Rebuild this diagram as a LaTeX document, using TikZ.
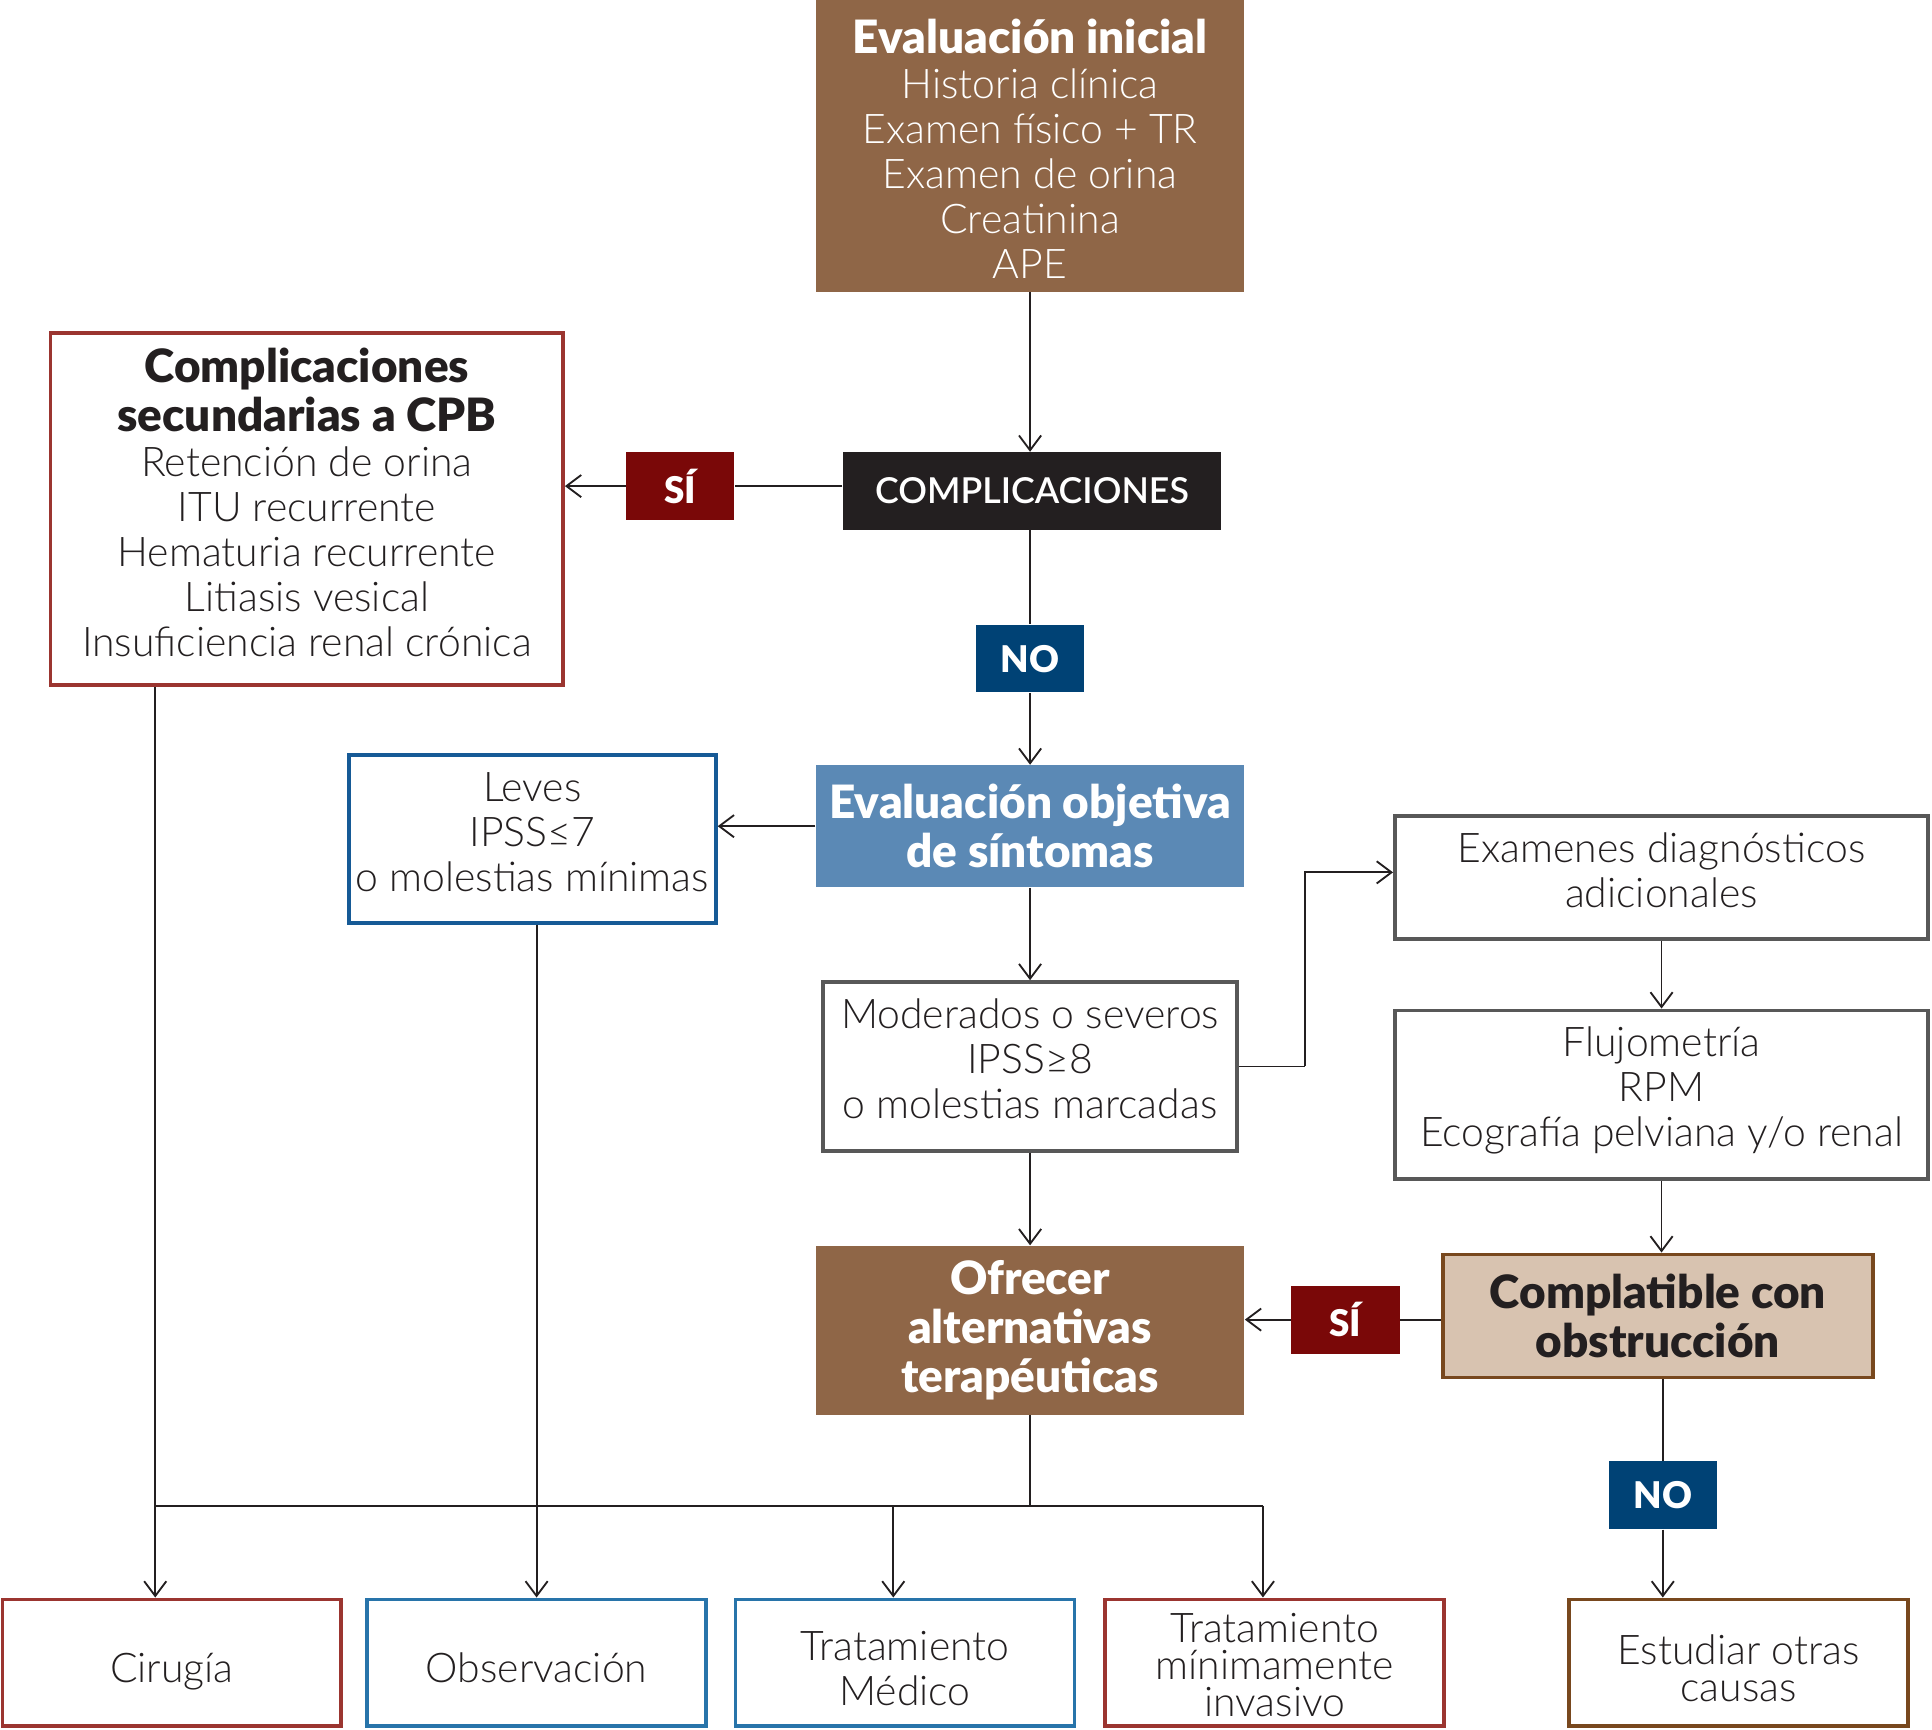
\documentclass[tikz,border=0pt]{standalone}
\usepackage{fontspec}
\setmainfont{Lato Light}[BoldFont={Lato Black}]
\newfontfamily\medio{Lato Semibold}
\usetikzlibrary{arrows.meta, positioning}

\definecolor{cafe}{RGB}{143,102,71}
\definecolor{cafeclaro}{RGB}{216,195,176}
\definecolor{cafeborde}{RGB}{120,72,30}
\definecolor{negro}{RGB}{35,31,32}
\definecolor{vino}{RGB}{122,8,8}
\definecolor{marino}{RGB}{0,66,117}
\definecolor{acero}{RGB}{91,137,181}
\definecolor{rojo}{RGB}{155,53,48}
\definecolor{azul}{RGB}{22,90,150}
\definecolor{celeste}{RGB}{40,116,170}
\definecolor{gris}{RGB}{88,88,88}

\newcommand{\encab}{\bfseries\fontsize{21.2}{22.8}\selectfont}
\newcommand{\alto}[1]{\rule[#1]{0pt}{0pt}}
\newcommand{\hondo}[1]{\rule[-#1]{0pt}{0pt}}

\tikzset{
  texto/.style={font=\fontsize{18.9}{20.8}\selectfont},
  titulo/.style={font=\bfseries\fontsize{21.2}{22.8}\selectfont},
  caja/.style={draw, line width=0.06cm, fill=white, text=negro, inner sep=0pt, align=center, texto},
  llena/.style={fill=#1, text=white, inner sep=0pt, align=center},
  etiqueta/.style={fill=#1, text=white, inner sep=0pt, minimum width=1.76cm, minimum height=1.1cm, font=\bfseries\fontsize{17}{20}\selectfont},
  flecha/.style={-{Straight Barb[length=2.4mm, width=3.6mm]}, draw=negro, line width=0.03cm},
  linea/.style={draw=negro, line width=0.03cm}
}

\begin{document}
\begin{tikzpicture}[x=0.02cm, y=-0.02cm]
\useasboundingbox (0,0) rectangle (1568,1404);

\node [llena=cafe, minimum width=6.96cm, minimum height=4.74cm, texto] (ini) at (836,118.5)
  {{\alto{24.4pt}\encab Evaluación inicial}\\ Historia clínica\\ Examen físico + TR\\ Examen de orina\\ Creatinina\\ APE\hondo{6pt}};

\node [llena=negro, minimum width=6.14cm, minimum height=1.26cm, font=\medio\fontsize{16.5}{20}\selectfont] (comp) at (837.5,398.5) {COMPLICACIONES};

\node [etiqueta=vino] (si1) at (552,394.5) {SÍ};

\node [caja, draw=rojo, minimum width=8.32cm, minimum height=5.72cm] (sec) at (249,413)
  {{\alto{22pt}\encab Complicaciones}\\[2pt] {\encab secundarias a CPB}\\ Retención de orina\\ ITU recurrente\\ Hematuria recurrente\\ Litiasis vesical\\ Insuficiencia renal crónica\hondo{12pt}};

\node [etiqueta=marino] (no1) at (836,534.5) {NO};

\node [llena=acero, minimum width=6.96cm, minimum height=1.98cm, titulo] (obj) at (836,670.5) {Evaluación objetiva\\ de síntomas};

\node [caja, draw=azul, minimum width=5.96cm, minimum height=2.72cm] (leves) at (432,681) {\alto{19.2pt}Leves\\ IPSS≤7\\ o molestias mínimas\hondo{12pt}};

\node [caja, draw=gris, minimum width=6.72cm, minimum height=2.74cm] (mod) at (836,865.5) {\alto{18.6pt}Moderados o severos\\ IPSS≥8\\ o molestias marcadas\hondo{12pt}};

\node [caja, draw=gris, minimum width=8.66cm, minimum height=2cm] (exa) at (1348.5,712) {\alto{18.9pt}Examenes diagnósticos\\ adicionales\hondo{12pt}};

\node [caja, draw=gris, minimum width=8.66cm, minimum height=2.74cm] (flu) at (1348.5,888.5) {\alto{18.6pt}Flujometría\\ RPM\\ Ecografía pelviana y/o renal\hondo{12pt}};

\node [caja, draw=cafeborde, fill=cafeclaro, minimum width=6.98cm, minimum height=2cm, titulo] (compat) at (1345.5,1068) {Complatible con\\ obstrucción};

\node [etiqueta=vino] (si2) at (1092,1071) {SÍ};

\node [llena=cafe, minimum width=6.96cm, minimum height=2.74cm, titulo] (ofr) at (836,1079.5) {Ofrecer\\ alternativas\\ terapéuticas};

\node [etiqueta=marino] (no2) at (1349.5,1213.5) {NO};

\foreach \n/\x/\c/\t in {cir/139.5/rojo/{\alto{30.5pt}Cirugía\hondo{12pt}}, obs/435.5/celeste/{\alto{30.5pt}Observación\hondo{12pt}}, med/734.5/celeste/{\alto{26.9pt}Tratamiento\\ Médico\hondo{8pt}}}
{
  \node [caja, draw=\c, minimum width=5.5cm, minimum height=2.06cm] (\n) at (\x,1349.5) {\t};
}
\node [caja, draw=rojo, minimum width=5.5cm, minimum height=2.06cm, font=\fontsize{18.9}{17.2}\selectfont] (inv) at (1034.5,1349.5) {\alto{18.4pt}Tratamiento\\ mínimamente\\ invasivo\hondo{3pt}};
\node [caja, draw=cafeborde, minimum width=5.5cm, minimum height=2.06cm, font=\fontsize{18.9}{17.2}\selectfont] (est) at (1411,1349.5) {\alto{26.7pt}Estudiar otras\\ causas\hondo{8pt}};

\coordinate (b1) at (126,1222);
\coordinate (b2) at (725,1222);
\coordinate (b3) at (1025,1222);
\coordinate (codo) at (1059,862);

\draw [flecha] (ini) -- (ini.south |- comp.north);
\draw [linea] (comp.west |- si1) -- (si1);
\draw [flecha] (si1) -- (sec.east |- si1);
\draw [linea] (comp.south -| no1) -- (no1);
\draw [flecha] (no1) -- (obj);
\draw [flecha] (obj.west) -- (leves.east |- obj.west);
\draw [flecha] (obj) -- (mod);
\draw [linea] (mod.east) -- (mod.east -| codo);
\draw [flecha] (mod.east -| codo) |- ([yshift=0.08cm]exa.west);
\draw [flecha] (exa) -- (flu);
\draw [flecha] (flu) -- (compat.north -| flu);
\draw [linea] (compat.west |- si2) -- (si2);
\draw [flecha] (si2) -- (ofr.east |- si2);
\draw [flecha] (mod) -- (ofr);
\draw [linea] (compat.south -| no2) -- (no2);
\draw [flecha] (no2) -- (est.north -| no2);
\draw [linea] (ofr) -- (ofr.south |- b1);
\draw [linea] (b1) -- (b3);
\draw [flecha] (b1 |- sec.south) -- (b1 |- cir.north);
\draw [flecha] (leves.south -| obs) -- (obs);
\draw [flecha] (b2) -- (b2 |- med.north);
\draw [flecha] (b3) -- (b3 |- inv.north);
\end{tikzpicture}
\end{document}
